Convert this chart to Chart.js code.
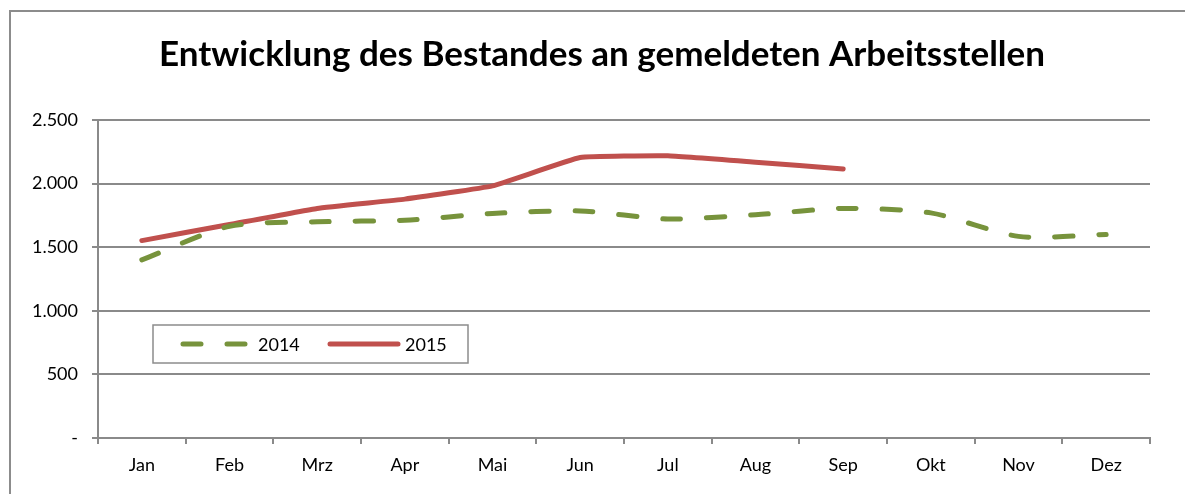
<!DOCTYPE html>
<html>
<head>
<meta charset="utf-8">
<script src="https://cdn.jsdelivr.net/npm/chart.js@4.4.1/dist/chart.umd.min.js"></script>
<style>
  html, body { margin: 0; padding: 0; background: #ffffff; }
  #wrap { width: 1185px; height: 494px; position: relative; }
</style>
</head>
<body>
<div id="wrap"><canvas id="c" width="1185" height="494"></canvas></div>
<script>
const months = ['Jan', 'Feb', 'Mrz', 'Apr', 'Mai', 'Jun', 'Jul', 'Aug', 'Sep', 'Okt', 'Nov', 'Dez'];
const values2014 = [1400, 1665, 1700, 1712, 1765, 1785, 1722, 1755, 1805, 1770, 1585, 1600];
const values2015 = [1552, 1678, 1805, 1878, 1982, 2205, 2218, 2168, 2115, null, null, null];
const yTickLabels = ['-', '500', '1.000', '1.500', '2.000', '2.500'];
const titleText = 'Entwicklung des Bestandes an gemeldeten Arbeitsstellen';

const GREEN = '#77933C';
const RED = '#C0504D';
const GRID = '#8a8a8a';
const FONT = 'Lato, "Open Sans", sans-serif';

const frame = {
  id: 'frame',
  beforeDraw(chart) {
    const ctx = chart.ctx;
    ctx.save();
    ctx.fillStyle = '#ffffff';
    ctx.fillRect(0, 0, chart.width, chart.height);
    ctx.strokeStyle = '#8c8c8c';
    ctx.lineWidth = 2;
    ctx.strokeRect(10, 11, chart.width + 20, chart.height + 20);
    ctx.restore();
  }
};

// center the title over the whole framed chart (like the reference), not only the padded box
const titleCenter = {
  id: 'titleCenter',
  afterLayout(chart) {
    if (chart.titleBlock) {
      chart.titleBlock.left = 0;
      chart.titleBlock.right = 1204;
    }
  }
};

const boxLegend = {
  id: 'boxLegend',
  afterDraw(chart) {
    const ctx = chart.ctx;
    const a = chart.chartArea;
    const x0 = a.left + 55, y0 = a.top + 205, w = 315, h = 38;
    ctx.save();
    ctx.fillStyle = '#ffffff';
    ctx.fillRect(x0, y0, w, h);
    ctx.strokeStyle = '#8c8c8c';
    ctx.lineWidth = 1.5;
    ctx.strokeRect(x0, y0, w, h);
    const cy = y0 + h / 2;
    chart.data.datasets.forEach((ds, i) => {
      const sx = x0 + (i === 0 ? 28 : 175);
      ctx.beginPath();
      ctx.lineWidth = ds.borderWidth;
      ctx.strokeStyle = ds.borderColor;
      ctx.lineCap = 'round';
      ctx.setLineDash(ds.borderDash || []);
      ctx.moveTo(sx + 2, cy);
      ctx.lineTo(sx + 70, cy);
      ctx.stroke();
      ctx.setLineDash([]);
      ctx.fillStyle = '#000000';
      ctx.font = '18px ' + FONT;
      ctx.textBaseline = 'middle';
      ctx.textAlign = 'left';
      ctx.fillText(ds.label, sx + 77, cy + 1);
    });
    ctx.restore();
  }
};

new Chart(document.getElementById('c'), {
  type: 'line',
  data: {
    labels: months,
    datasets: [
      {
        label: '2014',
        data: values2014,
        borderColor: GREEN,
        backgroundColor: GREEN,
        borderWidth: 5,
        borderDash: [18, 26],
        borderCapStyle: 'round',
        pointRadius: 0,
        tension: 0.25,
        fill: false
      },
      {
        label: '2015',
        data: values2015,
        borderColor: RED,
        backgroundColor: RED,
        borderWidth: 5,
        borderCapStyle: 'round',
        borderJoinStyle: 'round',
        pointRadius: 0,
        tension: 0.1,
        spanGaps: false,
        fill: false
      }
    ]
  },
  options: {
    responsive: false,
    animation: false,
    devicePixelRatio: 1,
    layout: { padding: { left: 0, right: 35, top: 0, bottom: 0 } },
    plugins: {
      legend: { display: false },
      tooltip: { enabled: false },
      title: {
        display: true,
        text: titleText,
        color: '#000000',
        font: { family: FONT, size: 35, weight: 'bold', lineHeight: 1.2 },
        padding: { top: 34, bottom: 44 }
      }
    },
    scales: {
      x: {
        offset: true,
        grid: { display: true, drawOnChartArea: false, drawTicks: true, tickLength: 6, offset: true, color: GRID, lineWidth: 2 },
        border: { display: true, color: GRID, width: 2 },
        ticks: { color: '#000000', font: { family: FONT, size: 18 }, padding: 10, maxRotation: 0, autoSkip: false },
        afterFit(scale) { scale.height = 56; }
      },
      y: {
        min: 0,
        max: 2500,
        grid: { color: GRID, lineWidth: 2, tickLength: 6, drawTicks: true },
        border: { display: true, color: GRID, width: 2 },
        ticks: {
          stepSize: 500,
          color: '#000000',
          font: { family: FONT, size: 18 },
          padding: 14,
          callback: (v, i) => yTickLabels[i]
        },
        afterFit(scale) { scale.width = 98; }
      }
    }
  },
  plugins: [frame, titleCenter, boxLegend]
});
</script>
</body>
</html>
